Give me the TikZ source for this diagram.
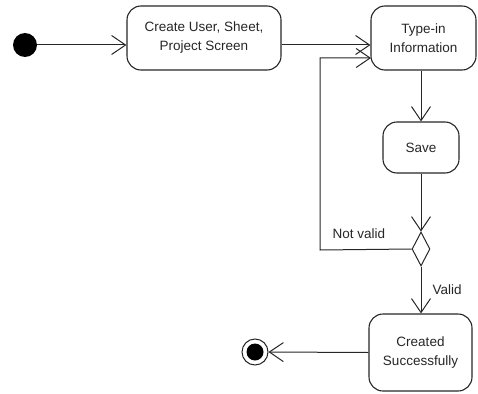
\documentclass[tikz,border=0pt]{standalone}
\usepackage{fontspec}
\setmainfont{Liberation Sans}
\usetikzlibrary{arrows.meta,shapes.geometric,calc}
\begin{document}
\begin{tikzpicture}[x=1pt,y=-1pt,
  every node/.style={font=\fontsize{13.5}{19}\selectfont, text=black!85},
  act/.style={draw=black!85, line width=1.1pt, rounded corners=14pt, align=center, inner sep=0pt},
  conn/.style={draw=black!85, line width=1pt, -{Straight Barb[length=14pt,width=19pt,line width=1pt]}},
  lbl/.style={font=\fontsize{13.5}{16}\selectfont}]
\useasboundingbox (0,0) rectangle (478,393);
\node[circle, fill=black, minimum size=24pt, inner sep=0pt] (init) at (25,45) {};
\node[act, minimum width=154pt, minimum height=64pt] (n1) at (204,38) {Create User, Sheet,\\Project Screen};
\node[act, minimum width=105pt, minimum height=64pt] (n2) at (423.5,38) {Type-in\\Information};
\node[act, minimum width=76pt, minimum height=51pt] (save) at (421,147.5) {Save};
\node[diamond, draw=black!85, line width=1pt, minimum width=18pt, minimum height=34pt, inner sep=0pt, aspect=0.53] (dia) at (421,249) {};
\node[act, minimum width=103pt, minimum height=77pt] (n3) at (420.5,352.5) {Created\\Successfully};
\node[circle, draw=black!85, line width=1pt, fill=white, minimum size=26pt, inner sep=0pt] (fin) at (255,352) {};
\fill[black] (fin.center) circle (8.5pt);
\coordinate (loop) at (320,250);
\coordinate (n2in) at (371,58);
\draw[conn] (init) -- (init -| n1.west);
\draw[conn] (n1.east |- init) -- (n2.west |- init);
\draw[conn] (n2.south -| save) -- (save.north);
\draw[conn] (save.south) -- (dia.north);
\draw[conn] (dia.west) -- (loop) |- (n2in);
\draw[conn] (dia.south) -- (dia.south |- n3.north);
\draw[conn] (n3.west) -- (fin.east);
\node[lbl] (nv) at (359,234) {Not valid};
\node[lbl] (vl) at (447,290) {Valid};
\end{tikzpicture}
\end{document}
